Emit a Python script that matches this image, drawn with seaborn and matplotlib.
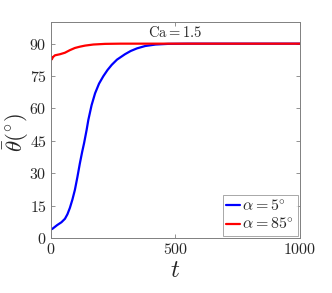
import numpy as np
import pandas as pd
import seaborn as sns
import matplotlib
matplotlib.use("Agg")
import matplotlib.pyplot as plt

# values
t_blue = [0, 5, 25, 42, 56, 66, 76, 86, 96, 106, 116, 125, 133, 143, 150, 163, 177, 193, 210, 227, 244, 265, 297, 320, 345, 378, 420, 470, 550, 700, 1000]
theta_blue = [4.0, 4.2, 6.0, 7.3, 8.9, 11.0, 14.0, 17.8, 22.3, 28.2, 34.6, 39.8, 44.0, 50.0, 54.7, 61.5, 67.0, 71.5, 74.9, 77.8, 80.2, 82.6, 85.1, 86.6, 87.8, 88.9, 89.6, 89.9, 90.0, 90.0, 90.0]
t_red = [0, 3, 8, 16, 36, 56, 76, 96, 116, 137, 170, 217, 280, 400, 1000]
theta_red = [84.0, 82.7, 83.8, 84.6, 85.1, 85.8, 87.0, 88.0, 88.6, 89.1, 89.6, 89.9, 90.0, 90.0, 90.0]
labels = [r"$\alpha = 5^{\circ}$", r"$\alpha = 85^{\circ}$"]

df = pd.concat([
    pd.DataFrame({"t": t_blue, "theta": theta_blue, "case": labels[0]}),
    pd.DataFrame({"t": t_red, "theta": theta_red, "case": labels[1]}),
])

sns.set_style("white")
plt.rcParams["font.family"] = "serif"
plt.rcParams["font.serif"] = ["cmr10", "DejaVu Serif"]
plt.rcParams["mathtext.fontset"] = "cm"
plt.rcParams["axes.formatter.use_mathtext"] = True

fig = plt.figure(figsize=(3.32, 2.93), dpi=100)
ax = fig.add_axes([0.1536, 0.1877, 0.75, 0.737])

sns.lineplot(data=df, x="t", y="theta", hue="case", palette=["#0000ff", "#ff0000"],
             linewidth=1.6, ax=ax, sort=False, estimator=None)

ax.set_xlim(0, 1000)
ax.set_ylim(0, 100)
ax.set_xticks([0, 500, 1000])
ax.set_yticks([0, 15, 30, 45, 60, 75, 90])
ax.tick_params(direction="in", length=3, width=0.6, color="#808080",
               labelsize=11.5, labelcolor="#262626", top=True, right=True,
               left=True, bottom=True, pad=3)
for s in ax.spines.values():
    s.set_color("#808080")
    s.set_linewidth(0.7)

ax.set_xlabel(r"$t$", fontsize=18, labelpad=2)
ax.set_ylabel(r"$\bar{\theta}(^{\circ})$", fontsize=16.5)
ax.yaxis.set_label_coords(-0.08, 0.49)
ax.text(0.5, 0.985, r"$\mathrm{Ca} = 1.5$", transform=ax.transAxes,
        ha="center", va="top", fontsize=10.5)

leg = ax.legend(loc="lower right", fontsize=11.5, frameon=True, fancybox=False,
                handlelength=0.9, handletextpad=0.15, borderpad=0.2,
                labelspacing=0.2, borderaxespad=0.15)
leg.get_frame().set_edgecolor("#808080")
leg.get_frame().set_linewidth(0.6)
leg.set_title(None)

fig.savefig("out.png", dpi=100)
